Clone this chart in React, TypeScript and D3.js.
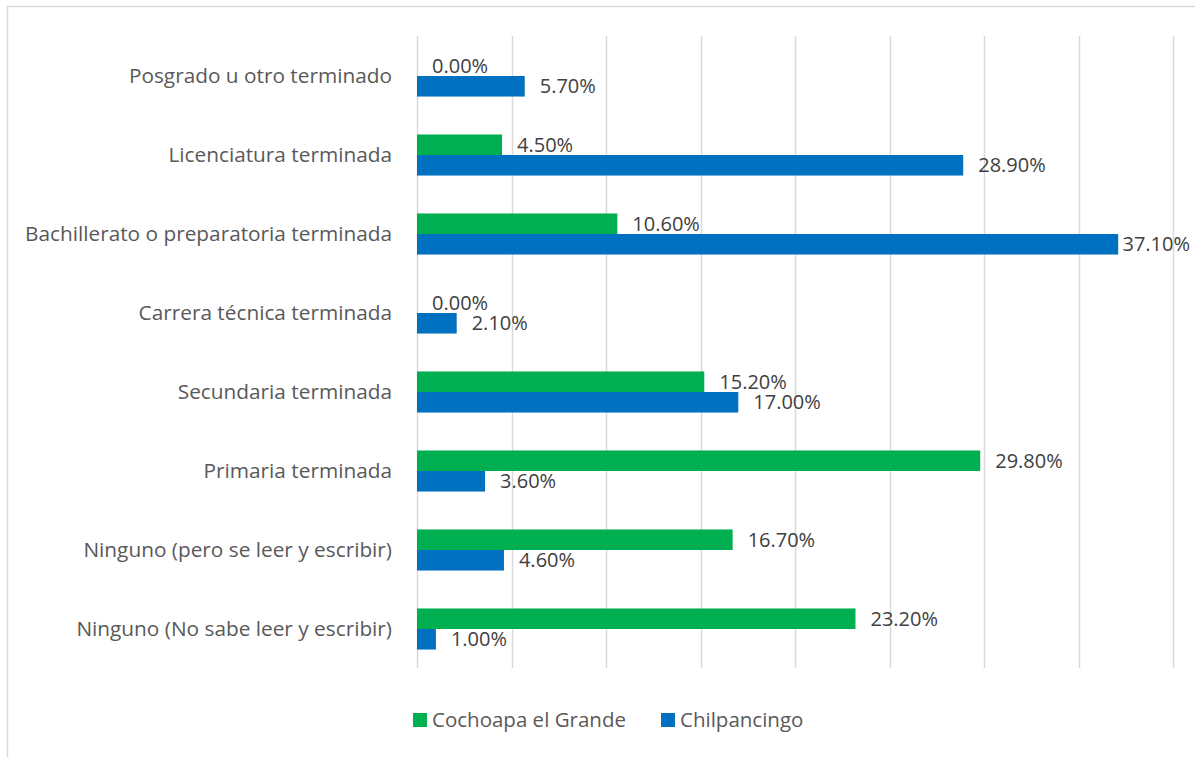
import { useEffect, useRef } from 'react';
import * as d3 from 'd3';

const categories = [
  'Posgrado u otro terminado',
  'Licenciatura terminada',
  'Bachillerato o preparatoria terminada',
  'Carrera técnica terminada',
  'Secundaria terminada',
  'Primaria terminada',
  'Ninguno (pero se leer y escribir)',
  'Ninguno (No sabe leer y escribir)',
];

const seriesNames = ['Cochoapa el Grande', 'Chilpancingo'];
const cochoapa = [0.0, 4.5, 10.6, 0.0, 15.2, 29.8, 16.7, 23.2];
const chilpancingo = [5.7, 28.9, 37.1, 2.1, 17.0, 3.6, 4.6, 1.0];
const gridTicks = [0, 5, 10, 15, 20, 25, 30, 35, 40];

const colors = ['#00B050', '#0070C0'];

const W = 1195;
const H = 757;
const FONT = '"Open Sans", sans-serif';

const App = () => {
  const svgRef = useRef<SVGSVGElement>(null);

  useEffect(() => {
    if (!svgRef.current) return;
    const svg = d3.select(svgRef.current);
    svg.selectAll('*').remove();

    // chart frame
    svg.append('rect')
      .attr('x', 7.5).attr('y', 6.5)
      .attr('width', 1250).attr('height', 800)
      .attr('fill', '#fff')
      .attr('stroke', '#d9d9d9')
      .attr('stroke-width', 1.5);

    const x = d3.scaleLinear().domain([0, 40]).range([417, 1173]);
    const y = d3.scaleBand()
      .domain(categories)
      .range([36.5, 668.5])
      .paddingInner(0.48)
      .paddingOuter(0.24);
    const ySub = d3.scaleBand()
      .domain(seriesNames)
      .range([0, y.bandwidth()]);

    // grid lines
    svg.append('g')
      .selectAll('line')
      .data(gridTicks)
      .enter()
      .append('line')
      .attr('x1', d => Math.round(x(d)) + 0.5)
      .attr('x2', d => Math.round(x(d)) + 0.5)
      .attr('y1', 36)
      .attr('y2', 668)
      .attr('stroke', '#d9d9d9')
      .attr('stroke-width', 1.5);

    const rows = categories.map((c, i) => ({
      cat: c,
      vals: [cochoapa[i], chilpancingo[i]],
    }));

    const groups = svg.append('g')
      .selectAll('g')
      .data(rows)
      .enter()
      .append('g')
      .attr('transform', d => `translate(0,${y(d.cat)})`);

    groups.selectAll('rect')
      .data(d => d.vals.map((v, j) => ({ v, s: seriesNames[j], j })))
      .enter()
      .append('rect')
      .attr('x', x(0))
      .attr('y', d => ySub(d.s) || 0)
      .attr('width', d => x(d.v) - x(0))
      .attr('height', ySub.bandwidth())
      .attr('fill', d => colors[d.j]);

    // value labels, pulled back inside the chart when too wide
    groups.selectAll('text.val')
      .data(d => d.vals.map((v, j) => ({ v, s: seriesNames[j] })))
      .enter()
      .append('text')
      .attr('class', 'val')
      .attr('x', d => x(d.v) + 15)
      .attr('y', d => (ySub(d.s) || 0) + ySub.bandwidth() / 2)
      .attr('dy', '0.35em')
      .attr('fill', '#404040')
      .style('font-family', FONT)
      .style('font-size', '20px')
      .text(d => `${d.v.toFixed(2)}%`)
      .each(function () {
        const t = this as SVGTextElement;
        const len = t.getComputedTextLength();
        const x0 = +t.getAttribute('x')!;
        if (x0 + len > 1190) t.setAttribute('x', String(1190 - len));
      });

    // category labels
    svg.append('g')
      .selectAll('text')
      .data(categories)
      .enter()
      .append('text')
      .attr('x', 392)
      .attr('y', d => (y(d) || 0) + y.bandwidth() / 2)
      .attr('dy', '0.35em')
      .attr('text-anchor', 'end')
      .attr('fill', '#595959')
      .style('font-family', FONT)
      .style('font-size', '20.8px')
      .text(d => d);

    // legend
    const legendX = [413, 661];
    const leg = svg.append('g')
      .selectAll('g')
      .data(seriesNames)
      .enter()
      .append('g')
      .attr('transform', (_d, i) => `translate(${legendX[i]},713)`);
    leg.append('rect')
      .attr('width', 14).attr('height', 14)
      .attr('fill', (_d, i) => colors[i]);
    leg.append('text')
      .attr('x', 19)
      .attr('y', 7)
      .attr('dy', '0.35em')
      .attr('fill', '#595959')
      .style('font-family', FONT)
      .style('font-size', '20.5px')
      .text(d => d);
  }, []);

  return (
    <svg
      ref={svgRef}
      width={W}
      height={H}
      style={{ position: 'absolute', left: 0, top: 0, display: 'block' }}
    />
  );
};

export default App;
